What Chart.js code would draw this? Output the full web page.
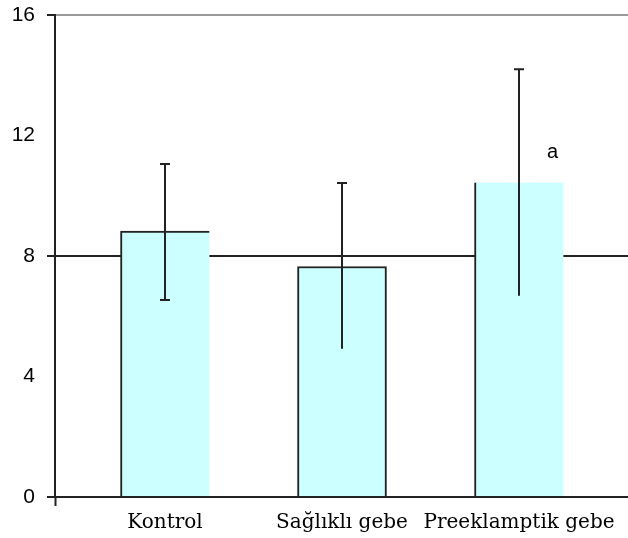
<!DOCTYPE html>
<html>
<head>
<meta charset="utf-8">
<script src="https://cdn.jsdelivr.net/npm/chart.js@4"></script>
<style>
  html, body { margin: 0; padding: 0; background: #fff; }
  #wrap { width: 628px; height: 538px; }
</style>
</head>
<body>
<div id="wrap"><canvas id="chart"></canvas></div>
<script>
const groups = ['Kontrol', 'Sağlıklı gebe', 'Preeklamptik gebe'];
const means = [8.83, 7.65, 10.44];
const errHigh = [11.05, 10.42, 14.2];
const errLow = [6.54, 4.92, 6.68];
const capBottom = [true, false, false];
const yTicks = [0, 4, 8, 12, 16];
const note = { group: 2, dx: 0.19, y: 11.42, text: 'a' };

// x range chosen so the bars sit where they do in the original plot
const xMin = -0.6215, xMax = 2.6158;

const errorBars = {
  id: 'errorBars',
  afterDatasetsDraw(chart) {
    const { ctx, scales: { x, y } } = chart;
    ctx.save();
    ctx.strokeStyle = '#222';
    ctx.lineWidth = 2;
    means.forEach((m, i) => {
      const px = x.getPixelForValue(i);
      const top = y.getPixelForValue(errHigh[i]);
      const bot = y.getPixelForValue(errLow[i]);
      ctx.beginPath();
      ctx.moveTo(px, top);
      ctx.lineTo(px, bot);
      ctx.moveTo(px - 5, top);
      ctx.lineTo(px + 5, top);
      if (capBottom[i]) {
        ctx.moveTo(px - 5, bot);
        ctx.lineTo(px + 5, bot);
      }
      ctx.stroke();
    });
    ctx.fillStyle = '#000';
    ctx.font = '20px "Liberation Sans", Arial, sans-serif';
    ctx.textAlign = 'center';
    ctx.textBaseline = 'middle';
    ctx.fillText(note.text, x.getPixelForValue(note.group + note.dx), y.getPixelForValue(note.y));
    ctx.restore();
  }
};

const borders = [
  { left: 2, top: 2, right: 0, bottom: 0 },
  { left: 2, top: 2, right: 2, bottom: 0 },
  { left: 2, top: 0, right: 0, bottom: 0 }
];

new Chart(document.getElementById('chart'), {
  type: 'bar',
  data: {
    datasets: [{
      data: means.map((v, i) => ({ x: i, y: v })),
      backgroundColor: '#CCFFFF',
      borderColor: '#222',
      borderSkipped: false,
      borderWidth: ctx => borders[ctx.dataIndex] || 0,
      barThickness: 89
    }]
  },
  options: {
    responsive: true,
    maintainAspectRatio: false,
    animation: false,
    layout: { padding: { top: 15, right: 0, left: 0, bottom: 0 } },
    plugins: {
      legend: { display: false },
      tooltip: { enabled: false }
    },
    scales: {
      x: {
        type: 'linear',
        offset: false,
        min: xMin,
        max: xMax,
        afterBuildTicks: s => { s.ticks = [{ value: xMin }].concat(groups.map((g, i) => ({ value: i }))); },
        afterFit: s => { s.height = 41; s.paddingLeft = 0; s.paddingRight = 0; },
        border: { color: '#222', width: 2 },
        grid: {
          offset: false,
          drawOnChartArea: false,
          tickLength: 9,
          tickWidth: 2,
          tickColor: c => c.tick && c.tick.value === xMin ? '#222' : 'rgba(0,0,0,0)'
        },
        ticks: {
          color: '#000',
          padding: 5,
          maxRotation: 0,
          autoSkip: false,
          font: { family: '"DejaVu Serif", serif', size: 20 },
          callback: v => groups[v] !== undefined && Number.isInteger(v) ? groups[v] : ''
        }
      },
      y: {
        min: 0,
        max: 16,
        afterBuildTicks: s => { s.ticks = yTicks.map(v => ({ value: v })); },
        afterFit: s => { s.width = 55; s.paddingTop = 0; s.paddingBottom = 0; },
        border: { color: '#222', width: 2 },
        grid: {
          tickLength: 8,
          lineWidth: 2,
          color: c => c.tick.value === 8 ? '#222' : c.tick.value === 16 ? '#999' : 'rgba(0,0,0,0)',
          tickColor: c => [0, 8, 16].includes(c.tick.value) ? '#222' : 'rgba(0,0,0,0)'
        },
        ticks: {
          color: '#000',
          padding: 12,
          font: { family: '"Liberation Sans", Arial, sans-serif', size: 21 }
        }
      }
    }
  },
  plugins: [errorBars]
});
</script>
</body>
</html>
